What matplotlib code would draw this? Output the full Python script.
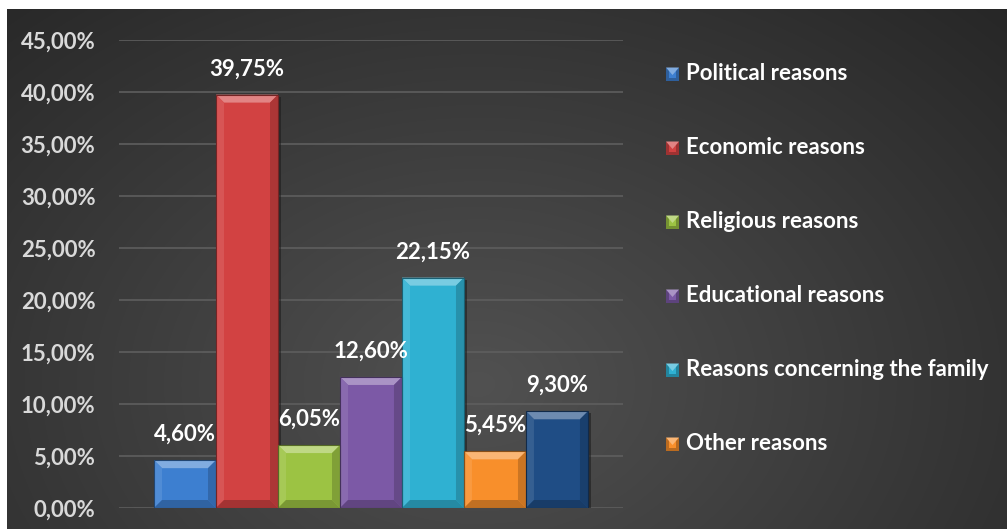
import numpy as np
import matplotlib
matplotlib.use("Agg")
import matplotlib.pyplot as plt
from matplotlib.patches import Polygon, Rectangle
from matplotlib.colors import to_rgb

categories = ["Political reasons", "Economic reasons", "Religious reasons",
              "Educational reasons", "Reasons concerning the family",
              "Other reasons", ""]
values = [4.60, 39.75, 6.05, 12.60, 22.15, 5.45, 9.30]
labels = ["4,60%", "39,75%", "6,05%", "12,60%", "22,15%", "5,45%", "9,30%"]
colors = ["#3d7fd0", "#d24242", "#9cc343", "#7c59a6", "#2fb1d2", "#f88f2b", "#1f4d85"]
yticks = [0, 5, 10, 15, 20, 25, 30, 35, 40, 45]
ytick_labels = ["0,00%", "5,00%", "10,00%", "15,00%", "20,00%", "25,00%",
                "30,00%", "35,00%", "40,00%", "45,00%"]

W, H = 1007, 529
FONT = "Lato"
FS = 16

fig = plt.figure(figsize=(W / 100, H / 100), dpi=100)
fig.patch.set_facecolor("white")


def mix(c, other, t):
    c = np.array(to_rgb(c))
    o = np.array(to_rgb(other))
    return tuple(c * (1 - t) + o * t)


# radial gradient background of the chart area
bg = fig.add_axes([7 / W, 0, 1 - 7 / W, (H - 9) / H])
bg.set_axis_off()
ny, nx = 260, 500
yy, xx = np.mgrid[0:ny, 0:nx]
cx, cy = 0.47 * nx, 0.72 * ny
r = np.sqrt(((xx - cx) / (0.75 * nx)) ** 2 + ((yy - cy) / (1.05 * ny)) ** 2)
r = np.clip(r, 0, 1)
inner = np.array(to_rgb("#515151"))
outer = np.array(to_rgb("#262626"))
img = inner[None, None, :] * (1 - r[..., None]) + outer[None, None, :] * r[..., None]
bg.imshow(img[::-1], aspect="auto", extent=[0, 1, 0, 1], origin="lower",
          interpolation="bilinear")
bg.set_xlim(0, 1)
bg.set_ylim(0, 1)

# main plot axes
x0, x1 = 119, 623
ytop, ybot = 40, 508
ax = fig.add_axes([x0 / W, (H - ybot) / H, (x1 - x0) / W, (ybot - ytop) / H])
ax.set_facecolor("none")
ax.set_xlim(-1.065, 7.065)
ax.set_ylim(0, 45)
for s in ax.spines.values():
    s.set_visible(False)
ax.set_xticks([])
ax.set_yticks(yticks)
ax.set_yticklabels(ytick_labels, fontname=FONT, fontweight="bold",
                   fontsize=FS, color="#d9d9d9")
ax.tick_params(axis="y", length=0, pad=17)
ax.grid(axis="y", color="#5e5e5e", linewidth=1.2)
ax.set_axisbelow(True)

x = np.arange(len(values))
bars = ax.bar(x, values, width=1.0, color=colors, zorder=3, linewidth=0)

# data units per pixel
px_x = (ax.get_xlim()[1] - ax.get_xlim()[0]) / (x1 - x0)
px_y = (ax.get_ylim()[1] - ax.get_ylim()[0]) / (ybot - ytop)
bx = 8 * px_x
by = 8 * px_y

for rect, c in zip(bars, colors):
    L = rect.get_x()
    R = L + rect.get_width()
    B = rect.get_y()
    T = B + rect.get_height()
    # soft shadow to the right
    ax.add_patch(Rectangle((R, B), 3 * px_x, T - B - 2 * px_y,
                           facecolor="#1a1a1a", alpha=0.55, zorder=2, linewidth=0))
    faces = [
        ([(L, T), (R, T), (R - bx, T - by), (L + bx, T - by)], mix(c, "white", 0.35)),
        ([(L, B), (L, T), (L + bx, T - by), (L + bx, B + by)], mix(c, "white", 0.10)),
        ([(R, B), (R, T), (R - bx, T - by), (R - bx, B + by)], mix(c, "black", 0.18)),
        ([(L, B), (R, B), (R - bx, B + by), (L + bx, B + by)], mix(c, "black", 0.22)),
    ]
    for pts, fc in faces:
        ax.add_patch(Polygon(pts, closed=True, facecolor=fc, edgecolor="none",
                             zorder=4))
    ax.add_patch(Rectangle((L, B), R - L, T - B, facecolor="none",
                           edgecolor=mix(c, "black", 0.45), linewidth=0.8, zorder=5))

for xi, v, lab in zip(x, values, labels):
    ax.annotate(lab, (xi, v), xytext=(0, 11), textcoords="offset points",
                ha="center", va="bottom", fontname=FONT, fontweight="bold",
                fontsize=FS, color="white", zorder=6)

# legend drawn as beveled swatches with labels
leg_y = [74, 148, 222, 296, 370, 444]
sw = 13
for yc, name, c in zip(leg_y, categories[:6], colors[:6]):
    lx = 666
    ly = H - yc - sw / 2
    fx = lambda p: p / W
    fy = lambda p: p / H
    b = 3
    sq = [
        ([(lx, ly), (lx + sw, ly), (lx + sw, ly + sw), (lx, ly + sw)], mix(c, "black", 0.25)),
        ([(lx + b, ly + b), (lx + sw - b, ly + b), (lx + sw - b, ly + sw - b), (lx + b, ly + sw - b)], c),
        ([(lx, ly + sw), (lx + sw, ly + sw), (lx + sw / 2, ly + sw / 2 - 1)], mix(c, "white", 0.35)),
    ]
    for pts, fc in sq:
        fig.add_artist(Polygon([(fx(p[0]), fy(p[1])) for p in pts], closed=True,
                               facecolor=fc, edgecolor="none",
                               transform=fig.transFigure))
    fig.text(686 / W, (H - yc) / H, name, ha="left", va="center",
             fontname=FONT, fontweight="bold", fontsize=FS, color="white")

fig.savefig("out.png", dpi=100, facecolor=fig.get_facecolor())
